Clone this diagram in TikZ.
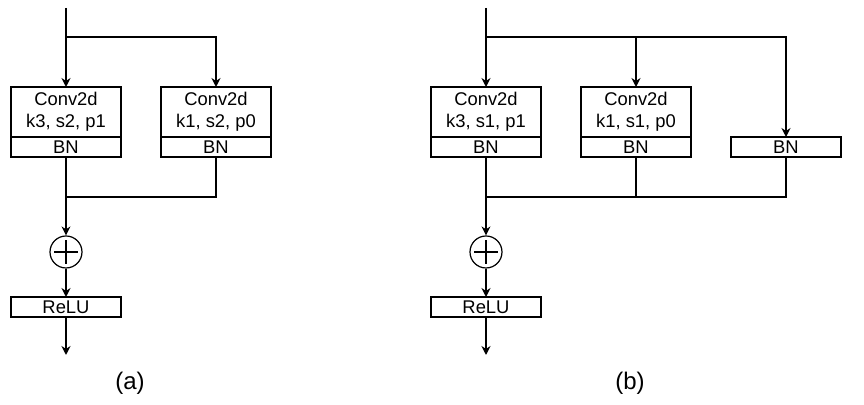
\documentclass[tikz,border=0pt]{standalone}
\usepackage{fontspec}
\setmainfont{Liberation Sans}
\usetikzlibrary{arrows.meta, positioning}

\begin{document}
\begin{tikzpicture}[
    x=0.5pt, y=-0.5pt,
    >={Stealth[length=4.5pt, width=4.5pt]},
    every path/.style={line width=0.6pt},
    conv/.style ={draw, align=center, inner sep=0pt, outer sep=0pt,
                  minimum width=55pt, minimum height=25pt,
                  font=\fontsize{9.2}{11}\selectfont},
    bn/.style   ={draw, inner sep=0pt, outer sep=0pt,
                  minimum width=55pt, minimum height=10pt,
                  font=\fontsize{9.2}{10}\selectfont},
    sumnode/.style={circle, draw, minimum size=16pt, inner sep=0pt,
                  path picture={\draw ([xshift=2.2pt]path picture bounding box.west)
                    -- ([xshift=-2.2pt]path picture bounding box.east)
                    ([yshift=-2.2pt]path picture bounding box.north)
                    -- ([yshift=2.2pt]path picture bounding box.south);}},
    caption/.style={font=\fontsize{12}{14}\selectfont},
]
\useasboundingbox (0,0) rectangle (864,405);

% (a) downsampling block
\coordinate (inA) at (66,8);
\coordinate (splitA) at (66,37);
\node[conv] (convA1) at (66,112) {Conv2d\\k3, s2, p1};
\node[bn, below=0pt of convA1] (bnA1) {BN};
\node[conv] (convA2) at (216,112) {Conv2d\\k1, s2, p0};
\node[bn, below=0pt of convA2] (bnA2) {BN};
\coordinate (mergeA) at (66,197);
\node[sumnode] (addA) at (66,252) {};
\node[bn] (reluA) at (66,307) {ReLU};
\coordinate (outA) at (66,355);
\node[caption] (capA) at (130,383) {(a)};

\draw (inA) -- (splitA);
\draw[->] (splitA) -- (convA1);
\draw[->] (splitA) -| (convA2.north);
\draw (bnA1) -- (mergeA);
\draw (bnA2.south) |- (mergeA);
\draw[->] (mergeA) -- (addA);
\draw[->] (addA) -- (reluA);
\draw[->] (reluA) -- (outA);

% (b) regular block
\coordinate (inB) at (486,8);
\coordinate (splitB) at (486,37);
\node[conv] (convB1) at (486,112) {Conv2d\\k3, s1, p1};
\node[bn, below=0pt of convB1] (bnB1) {BN};
\node[conv] (convB2) at (636,112) {Conv2d\\k1, s1, p0};
\node[bn, below=0pt of convB2] (bnB2) {BN};
\node[bn] (bnB3) at (786,147) {BN};
\coordinate (mergeB) at (486,197);
\node[sumnode] (addB) at (486,252) {};
\node[bn] (reluB) at (486,307) {ReLU};
\coordinate (outB) at (486,355);
\node[caption] (capB) at (630,383) {(b)};

\draw (inB) -- (splitB);
\draw[->] (splitB) -- (convB1);
\draw[->] (splitB) -| (convB2.north);
\draw[->] (splitB) -| (bnB3.north);
\draw (bnB1) -- (mergeB);
\draw (bnB2.south) |- (mergeB);
\draw (bnB3.south) |- (mergeB);
\draw[->] (mergeB) -- (addB);
\draw[->] (addB) -- (reluB);
\draw[->] (reluB) -- (outB);
\end{tikzpicture}
\end{document}
